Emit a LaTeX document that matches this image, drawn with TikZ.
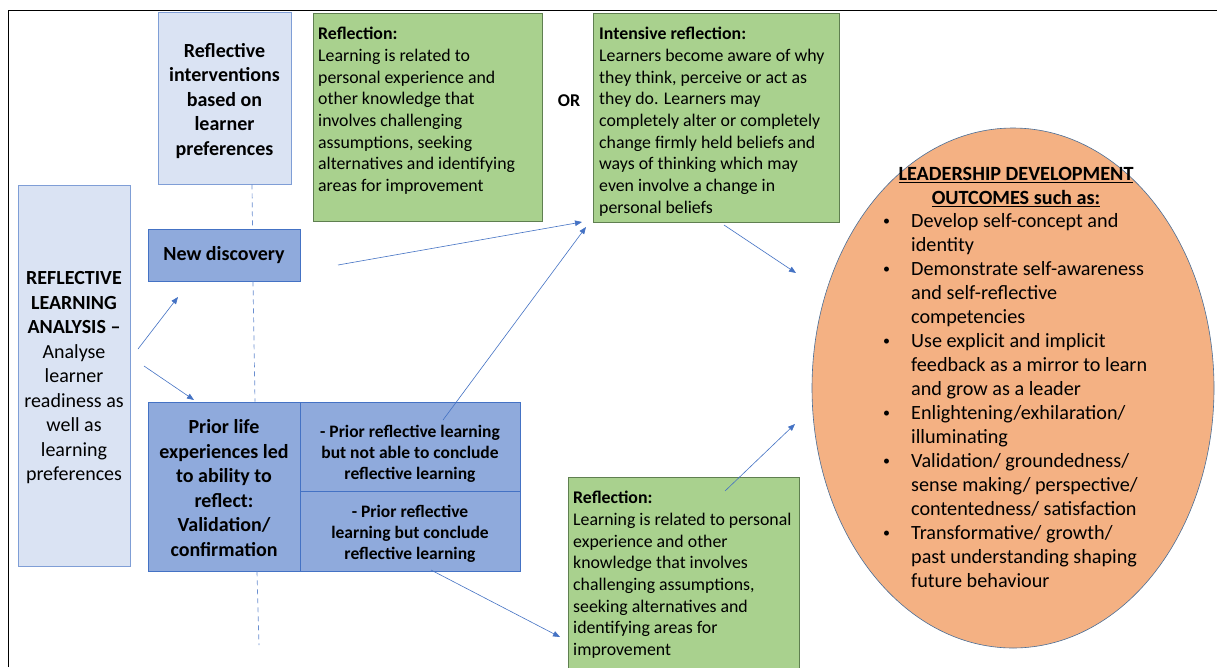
\documentclass[tikz,border=0pt]{standalone}
\usepackage{fontspec}
\setmainfont{Carlito}
\usetikzlibrary{arrows.meta,shapes.geometric}
\definecolor{lbfill}{HTML}{DAE3F3}
\definecolor{lbdraw}{HTML}{7F9ED6}
\definecolor{dbfill}{HTML}{8FAADC}
\definecolor{dbdraw}{HTML}{4472C4}
\definecolor{gfill}{HTML}{A9D18E}
\definecolor{gdraw}{HTML}{5F7F50}
\definecolor{ofill}{HTML}{F4B183}
\definecolor{odraw}{HTML}{4A6E96}
\definecolor{arrc}{HTML}{4472C4}
\newcommand\myBig{\fontsize{20}{24.5}\selectfont}
\newcommand\myMid{\fontsize{17.5}{21}\selectfont}
\newcommand\myGreen{\fontsize{17.8}{21.7}\selectfont}
\newcommand\myOut{\fontsize{20.2}{24}\selectfont}
\newcommand\myBul{\makebox[30pt][l]{\hspace*{2pt}\raisebox{1.5pt}{\fontsize{14}{14}\selectfont •}}}
\newcommand\myInd{\hspace*{30pt}}
\begin{document}
\begin{tikzpicture}[x=1pt,y=-1pt,
  lbox/.style={draw=lbdraw,fill=lbfill,line width=0.8pt,inner sep=0pt},
  dbox/.style={draw=dbdraw,fill=dbfill,line width=0.8pt,inner sep=0pt},
  btext/.style={inner sep=0pt,align=center},
  gbox/.style={draw=gdraw,fill=gfill,line width=0.8pt,inner sep=0pt},
  gtext/.style={anchor=north west,inner sep=0pt,align=left,font=\myGreen},
  arr/.style={draw=arrc,line width=0.6pt,-{Triangle[length=7pt,width=5.5pt]}},
  vdash/.style={draw=arrc!80,line width=0.7pt,dash pattern=on 5pt off 4pt}
]
\useasboundingbox (0,0) rectangle (1217,667);
\fill[white] (0,0) rectangle (1217,667);
% frame
\draw[line width=1.6pt] (8.5,667) -- (8.5,10.5) -- (1217,10.5);

% left column
\node[lbox,minimum width=133pt,minimum height=172pt] (ri) at (224.5,98) {};
\node[btext,font=\myBig\bfseries] (rit) at ([yshift=-3pt]ri.center)
  {Reflective\\interventions\\based on\\learner\\preferences};
\node[lbox,minimum width=112pt,minimum height=381pt] (rla) at (74,375.5) {};
\node[btext,font=\myBig] (rlat) at ([yshift=-2.5pt]rla.center)
  {\textbf{REFLECTIVE}\\\textbf{LEARNING}\\\textbf{ANALYSIS –}\\Analyse\\learner\\readiness as\\well as\\learning\\preferences};
\node[dbox,minimum width=152pt,minimum height=52pt] (nd) at (224,255) {};
\node[btext,font=\myBig\bfseries] (ndt) at ([yshift=-0.5pt]nd.center) {New discovery};
\node[dbox,minimum width=152pt,minimum height=169pt] (pl) at (224,486.5) {};
\node[btext,font=\myBig\bfseries] (plt) at ([yshift=-1.5pt]pl.center)
  {Prior life\\experiences led\\to ability to\\reflect:\\Validation/\\confirmation};
\node[dbox,minimum width=220pt,minimum height=89pt] (pr1) at (410,446.5) {};
\node[btext,font=\myMid\bfseries] (pr1t) at ([yshift=-7.5pt]pr1.center)
  {- Prior reflective learning\\but not able to conclude\\reflective learning};
\node[dbox,minimum width=220pt,minimum height=80pt] (pr2) at (410,531) {};
\node[btext,font=\myMid\bfseries] (pr2t) at ([yshift=-2.5pt]pr2.center)
  {- Prior reflective\\learning but conclude\\reflective learning};

% green boxes
\node[gbox,minimum width=229pt,minimum height=208pt] (g1) at (427.5,117) {};
\node[gtext] (g1t) at (318,24.3) {\strut\textbf{Reflection:}\\Learning is related to\\personal experience and\\other knowledge that\\involves challenging\\assumptions, seeking\\alternatives and identifying\\areas for improvement};
\node[font=\fontsize{18}{22}\selectfont\bfseries,inner sep=0pt] (or) at (569,101) {OR};
\node[gbox,minimum width=246pt,minimum height=209pt] (g2) at (716,117.5) {};
\node[gtext] (g2t) at (599,24.3) {\strut\textbf{Intensive reflection:}\\Learners become aware of why\\they think, perceive or act as\\they do. Learners may\\completely alter or completely\\change firmly held beliefs and\\ways of thinking which may\\even involve a change in\\personal beliefs};
\node[gbox,minimum width=231pt,minimum height=191pt] (g3) at (683.5,572.5) {};
\node[gtext] (g3t) at (573,488.3) {\strut\textbf{Reflection:}\\Learning is related to personal\\experience and other\\knowledge that involves\\challenging assumptions,\\seeking alternatives and\\identifying areas for\\improvement};

% outcomes ellipse
\node[ellipse,draw=odraw,fill=ofill,line width=0.6pt,minimum width=402pt,minimum height=520pt,inner sep=0pt] (out) at (1013,388) {};
\node[anchor=north,inner sep=0pt,align=center,font=\myOut\bfseries] (outt) at (1016,163.2)
  {\strut\underline{LEADERSHIP DEVELOPMENT}\\\underline{OUTCOMES such as:}};
\node[anchor=north west,inner sep=0pt,align=left,font=\myOut] (outl) at (881,210.2)
  {\strut\myBul Develop self-concept and\\\myInd identity\\
   \myBul Demonstrate self-awareness\\\myInd and self-reflective\\\myInd competencies\\
   \myBul Use explicit and implicit\\\myInd feedback as a mirror to learn\\\myInd and grow as a leader\\
   \myBul Enlightening/exhilaration/\\\myInd illuminating\\
   \myBul Validation/ groundedness/\\\myInd sense making/ perspective/\\\myInd contentedness/ satisfaction\\
   \myBul Transformative/ growth/\\\myInd past understanding shaping\\\myInd future behaviour};

% dashed spine
\coordinate (dend) at (259,645);
\draw[vdash] ([xshift=27.5pt]ri.south) -- ([xshift=28.5pt]nd.north);
\draw[vdash] ([xshift=29pt]nd.south) -- ([xshift=31pt]pl.north);
\draw[vdash] ([xshift=33pt]pl.south) -- (dend);

% arrows
\coordinate (a1s) at (138,349); \coordinate (a1e) at (178,297);
\coordinate (a2s) at (144,366); \coordinate (a2e) at (194,400);
\coordinate (a3s) at (338,265); \coordinate (a3e) at (582,222);
\coordinate (a4s) at (443,420); \coordinate (a4e) at (586,227);
\coordinate (a5s) at (724,225); \coordinate (a5e) at (796,273);
\coordinate (a6s) at (725,491); \coordinate (a6e) at (795,424);
\coordinate (a7s) at (431,570); \coordinate (a7e) at (560,637);
\draw[arr] (a1s) -- (a1e);
\draw[arr] (a2s) -- (a2e);
\draw[arr] (a3s) -- (a3e);
\draw[arr] (a4s) -- (a4e);
\draw[arr] (a5s) -- (a5e);
\draw[arr] (a6s) -- (a6e);
\draw[arr] (a7s) -- (a7e);
\end{tikzpicture}
\end{document}
